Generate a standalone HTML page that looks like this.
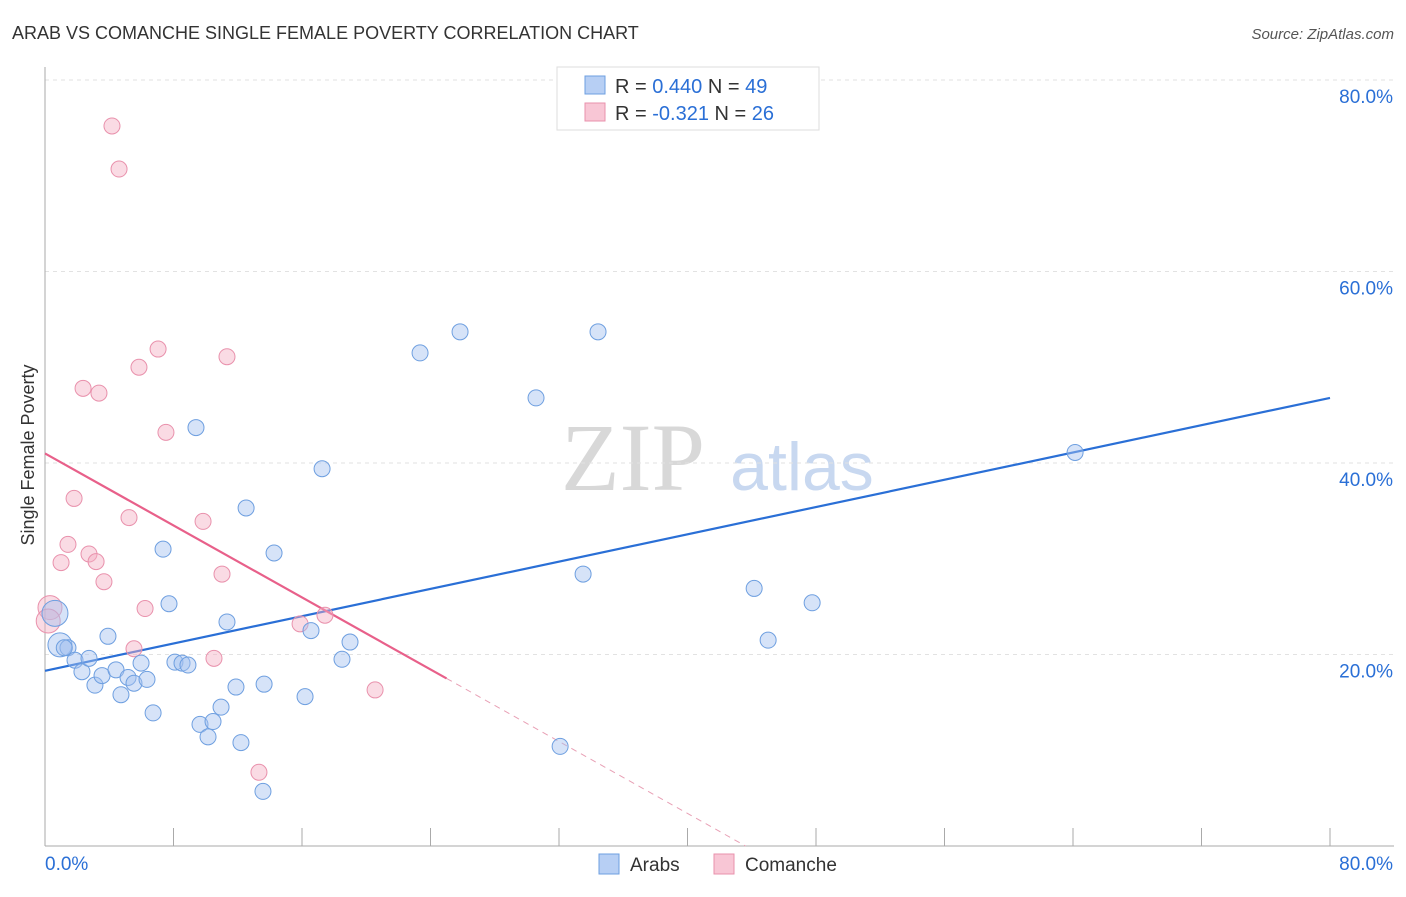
<!DOCTYPE html>
<html><head><meta charset="utf-8"><style>
body{margin:0;background:#fff;font-family:"Liberation Sans",sans-serif}
svg text{font-family:"Liberation Sans",sans-serif}
</style></head><body>
<svg id="chart" width="1406" height="892" viewBox="0 0 1406 892" xmlns="http://www.w3.org/2000/svg">
<text x="12" y="39" font-size="18" fill="#333">ARAB VS COMANCHE SINGLE FEMALE POVERTY CORRELATION CHART</text>
<text x="1394" y="39" font-size="15" fill="#555" font-style="italic" text-anchor="end">Source: ZipAtlas.com</text>
<text x="633" y="490" font-size="96" fill="#d8d8d8" font-family="Liberation Serif" text-anchor="middle" style="font-family:'Liberation Serif',serif">ZIP</text>
<text x="802" y="490" font-size="68" fill="#c8d8f0" text-anchor="middle">atlas</text>
<g id="grid"></g><g id="axes"></g><g id="lines"></g><g id="points"></g>
<text transform="translate(34,455) rotate(-90)" font-size="18" fill="#333" text-anchor="middle">Single Female Poverty</text>
<g>
<rect x="557" y="67" width="262" height="63" fill="#fff" stroke="#ddd"/>
<rect x="585" y="76" width="20" height="18" fill="#b7cff4" stroke="#6e9fe0"/>
<text x="615" y="93" font-size="20" fill="#333">R = <tspan fill="#2a6fd6">0.440</tspan>   N = <tspan fill="#2a6fd6">49</tspan></text>
<rect x="585" y="103" width="20" height="18" fill="#f8c6d5" stroke="#e991ac"/>
<text x="615" y="120" font-size="20" fill="#333">R = <tspan fill="#2a6fd6">-0.321</tspan>   N = <tspan fill="#2a6fd6">26</tspan></text>
</g>
<g>
<rect x="599" y="854" width="20" height="20" fill="#b7cff4" stroke="#6e9fe0"/>
<text x="630" y="871" font-size="19" fill="#333">Arabs</text>
<rect x="714" y="854" width="20" height="20" fill="#f8c6d5" stroke="#e991ac"/>
<text x="745" y="871" font-size="19" fill="#333">Comanche</text>
</g>
</svg>
<script>
const arabX=[0.62,0.93,1.43,1.87,2.30,2.74,3.11,3.55,3.92,4.42,4.73,5.17,5.54,5.98,6.35,6.73,7.35,7.72,8.09,8.53,8.90,9.40,9.65,10.15,10.46,10.96,11.33,11.89,12.20,12.52,13.57,13.64,14.26,16.19,16.56,17.25,18.49,18.99,23.35,25.84,30.57,32.07,33.50,34.43,44.15,45.02,47.76,64.13,1.2];
const arabY=[24.3,21.0,20.7,19.4,18.2,19.6,16.8,17.8,21.9,18.4,15.8,17.6,17.0,19.1,17.4,13.9,31.0,25.3,19.2,19.1,18.9,43.7,12.7,11.4,13.0,14.5,23.4,16.6,10.8,35.3,5.7,16.9,30.6,15.6,22.5,39.4,19.5,21.3,51.5,53.7,46.8,10.4,28.4,53.7,26.9,21.5,25.4,41.1,20.7];
const arabR=[13,12,8,8,8,8,8,8,8,8,8,8,8,8,8,8,8,8,8,8,8,8,8,8,8,8,8,8,8,8,8,8,8,8,8,8,8,8,8,8,8,8,8,8,8,8,8,8,8];
const comX=[0.31,4.17,4.61,7.04,5.85,11.33,2.37,3.36,7.53,1.81,5.23,9.84,1.43,2.74,1.00,3.18,3.67,11.02,6.23,5.54,10.52,15.88,17.43,20.55,13.32,0.2];
const comY=[24.9,75.2,70.7,51.9,50.0,51.1,47.8,47.3,43.2,36.3,34.3,33.9,31.5,30.5,29.6,29.7,27.6,28.4,24.8,20.6,19.6,23.2,24.1,16.3,7.7,23.5];
const arabLine=[18.3,46.8]; // y at x=0 and x=80
const comLine=[41.0,-0.94]; // intercept, slope
const comSolidEnd=25;
const xTicks=[0,10,20,30,40,50,60,70,80];
const yTicks=[20,40,60,80];
const sx=v=>45+v*1285/80, sy=v=>846-v*9.575;
const NS="http://www.w3.org/2000/svg";
function mk(tag,attrs,parent){const e=document.createElementNS(NS,tag);for(const k in attrs)e.setAttribute(k,attrs[k]);parent.appendChild(e);return e;}
const grid=document.getElementById('grid'),axes=document.getElementById('axes'),lines=document.getElementById('lines'),pts=document.getElementById('points');
yTicks.forEach(t=>{const l=mk('line',{x1:45,x2:1394,y1:sy(t),y2:sy(t),stroke:'#e2e2e2','stroke-dasharray':'4,4'},grid);


const tx=mk('text',{x:1393,y:sy(t)+23,'font-size':19,fill:'#2a6fd6','text-anchor':'end'},axes);tx.textContent=t.toFixed(1)+'%';

});
const xa=mk('line',{x1:45,x2:1394,y1:846,y2:846,stroke:'#aaa'},axes);


const ya=mk('line',{x1:45,x2:45,y1:67,y2:846,stroke:'#aaa'},axes);


for(let i=0;i<=10;i++){const v=i*8;const tk=mk('line',{x1:sx(v),x2:sx(v),y1:828,y2:846,stroke:'#aaa'},axes);

}
[[0,'start',45],[80,'end',1393]].forEach(([v,a,x])=>{const t=mk('text',{x:x,y:870,'font-size':19,fill:'#2a6fd6','text-anchor':a},axes);t.textContent=v.toFixed(1)+'%';

});
const bl=mk('line',{x1:sx(0),y1:sy(arabLine[0]),x2:sx(80),y2:sy(arabLine[1]),stroke:'#2a6fd6','stroke-width':2.2},lines);


const zeroX=-comLine[0]/comLine[1];
const pl=mk('line',{x1:sx(0),y1:sy(comLine[0]),x2:sx(comSolidEnd),y2:sy(comLine[0]+comLine[1]*comSolidEnd),stroke:'#e8608a','stroke-width':2.2},lines);


const pd=mk('line',{x1:sx(comSolidEnd),y1:sy(comLine[0]+comLine[1]*comSolidEnd),x2:sx(zeroX),y2:sy(0),stroke:'#e8a0b5','stroke-width':1,'stroke-dasharray':'6,5'},lines);


comX.forEach((x,i)=>{const c=mk('circle',{cx:sx(x),cy:sy(comY[i]),r:i==0||i==25?12:8,fill:'rgba(244,176,196,0.45)',stroke:'#e991ac','stroke-width':1},pts);

});
arabX.forEach((x,i)=>{const c=mk('circle',{cx:sx(x),cy:sy(arabY[i]),r:arabR[i],fill:'rgba(164,194,240,0.45)',stroke:'#6e9fe0','stroke-width':1},pts);

});
</script>
</body></html>
